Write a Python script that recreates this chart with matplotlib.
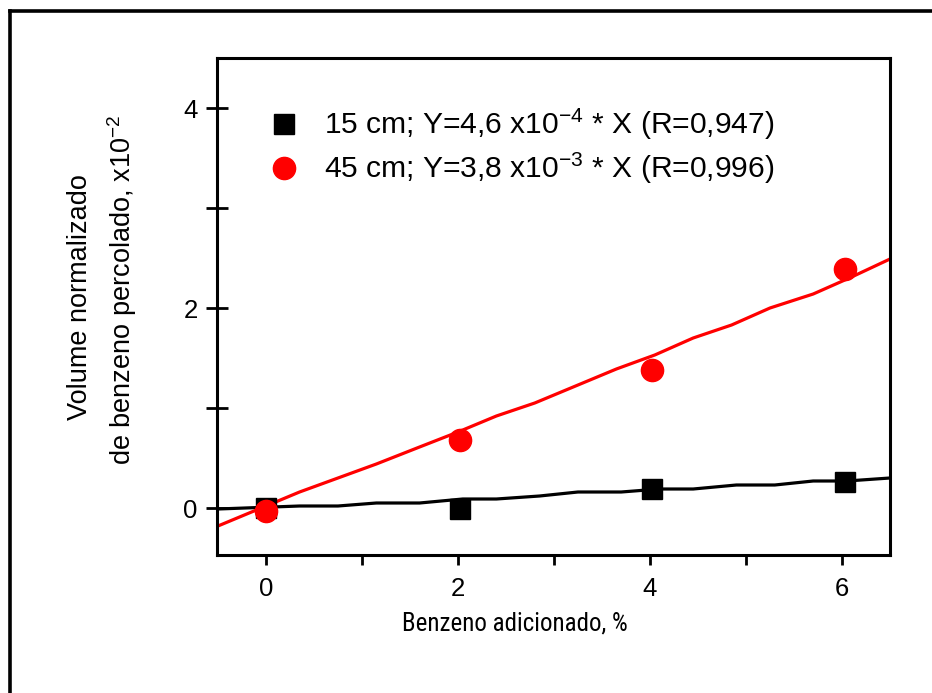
import matplotlib
matplotlib.use("Agg")
import matplotlib.pyplot as plt
from matplotlib.lines import Line2D
from matplotlib.ticker import MultipleLocator
from matplotlib import font_manager

plt.rcParams['font.family'] = ['Liberation Sans', 'DejaVu Sans']
plt.rcParams['mathtext.fontset'] = 'custom'
plt.rcParams['mathtext.rm'] = 'Liberation Sans'
plt.rcParams['mathtext.it'] = 'Liberation Sans:italic'
plt.rcParams['mathtext.bf'] = 'Liberation Sans:bold'

names = {f.name for f in font_manager.fontManager.ttflist}
narrow = None
for cand in ['Liberation Sans Narrow', 'Arial Narrow', 'Roboto Condensed', 'Archivo Narrow']:
    if cand in names:
        narrow = cand
        break

# ---- data ----
benzeno_x = [0.0, 2.02, 4.02, 6.03]
vol_15cm = [0.0, -0.01, 0.19, 0.26]
vol_45cm = [-0.03, 0.68, 1.38, 2.39]

fit15_x = [-0.5, 0.35, 0.75, 1.15, 1.6, 2.05, 2.4, 2.85, 3.25, 3.7, 4.1, 4.45, 4.9, 5.3, 5.7, 6.05, 6.5]
fit15_y = [-0.01, 0.02, 0.02, 0.05, 0.05, 0.09, 0.09, 0.12, 0.16, 0.16, 0.19, 0.19, 0.23, 0.23, 0.27, 0.27, 0.30]
fit45_x = [-0.5, 0.35, 0.75, 1.15, 1.6, 2.0, 2.4, 2.8, 3.25, 3.65, 4.05, 4.45, 4.85, 5.25, 5.7, 6.1, 6.5]
fit45_y = [-0.18, 0.16, 0.30, 0.44, 0.61, 0.76, 0.92, 1.05, 1.23, 1.39, 1.53, 1.70, 1.83, 2.00, 2.14, 2.31, 2.49]

label_15 = r'15 cm; Y=4,6 x10$^{\mathrm{-4}}$ * X (R=0,947)'
label_45 = r'45 cm; Y=3,8 x10$^{\mathrm{-3}}$ * X (R=0,996)'
x_ticks = [0, 2, 4, 6]
y_ticks = [0, 2, 4]
x_label = 'Benzeno adicionado, %'
y_label_1 = 'Volume normalizado'
y_label_2 = r'de benzeno percolado, x10$^{\mathrm{-2}}$'

W, H = 932, 693
fig = plt.figure(figsize=(W / 100, H / 100), dpi=100)
ax = fig.add_axes([217 / W, 1 - 555 / H, (890 - 217) / W, (555 - 58) / H])

ax.plot(fit15_x, fit15_y, color='black', lw=2.3, zorder=2)
ax.plot(fit45_x, fit45_y, color='#ff0000', lw=2.3, zorder=2)
h1, = ax.plot(benzeno_x, vol_15cm, 's', color='black', ms=14.5, ls='none', zorder=3)
h2, = ax.plot(benzeno_x, vol_45cm, 'o', color='#ff0000', ms=16, ls='none', zorder=4)

ax.set_xlim(-0.51, 6.5)
ax.set_ylim(-0.47, 4.5)
ax.set_xticks(x_ticks)
ax.set_yticks(y_ticks)
ax.xaxis.set_minor_locator(MultipleLocator(1))
ax.yaxis.set_minor_locator(MultipleLocator(1))

for s in ax.spines.values():
    s.set_linewidth(2.2)

ax.tick_params(axis='x', which='both', direction='out', length=7.5, width=2, labelsize=18.5, pad=8,
               top=False)
ax.tick_params(axis='y', which='both', direction='inout', length=16, width=2, labelsize=18.5, pad=6,
               right=False)

leg = ax.legend([h1, h2], [label_15, label_45], loc='upper left',
                bbox_to_anchor=(269 / W, 1 - 107 / H), bbox_transform=fig.transFigure,
                frameon=False, fontsize=21.6, handlelength=1.0, handletextpad=0.85,
                labelspacing=0.3, borderpad=0, borderaxespad=0)

if narrow:
    fig.text(515 / W, 1 - 624 / H, x_label, ha='center', va='center', fontsize=18,
             family=[narrow, 'Liberation Sans'])
else:
    fig.text(515 / W, 1 - 624 / H, x_label, ha='center', va='center', fontsize=15.5)
fig.text(80 / W, 1 - 297 / H, y_label_1, ha='center', va='center', rotation=90, fontsize=19.5)
fig.text(122 / W, 1 - 290 / H, y_label_2, ha='center', va='center', rotation=90, fontsize=19.5)

# outer frame
fig.add_artist(Line2D([10 / W, 10 / W], [0, 1 - 11 / H], transform=fig.transFigure,
                      color='black', lw=2.6, solid_capstyle='projecting'))
fig.add_artist(Line2D([10 / W, 1], [1 - 11 / H, 1 - 11 / H], transform=fig.transFigure,
                      color='black', lw=2.6, solid_capstyle='projecting'))

fig.savefig('out.png', dpi=100)
